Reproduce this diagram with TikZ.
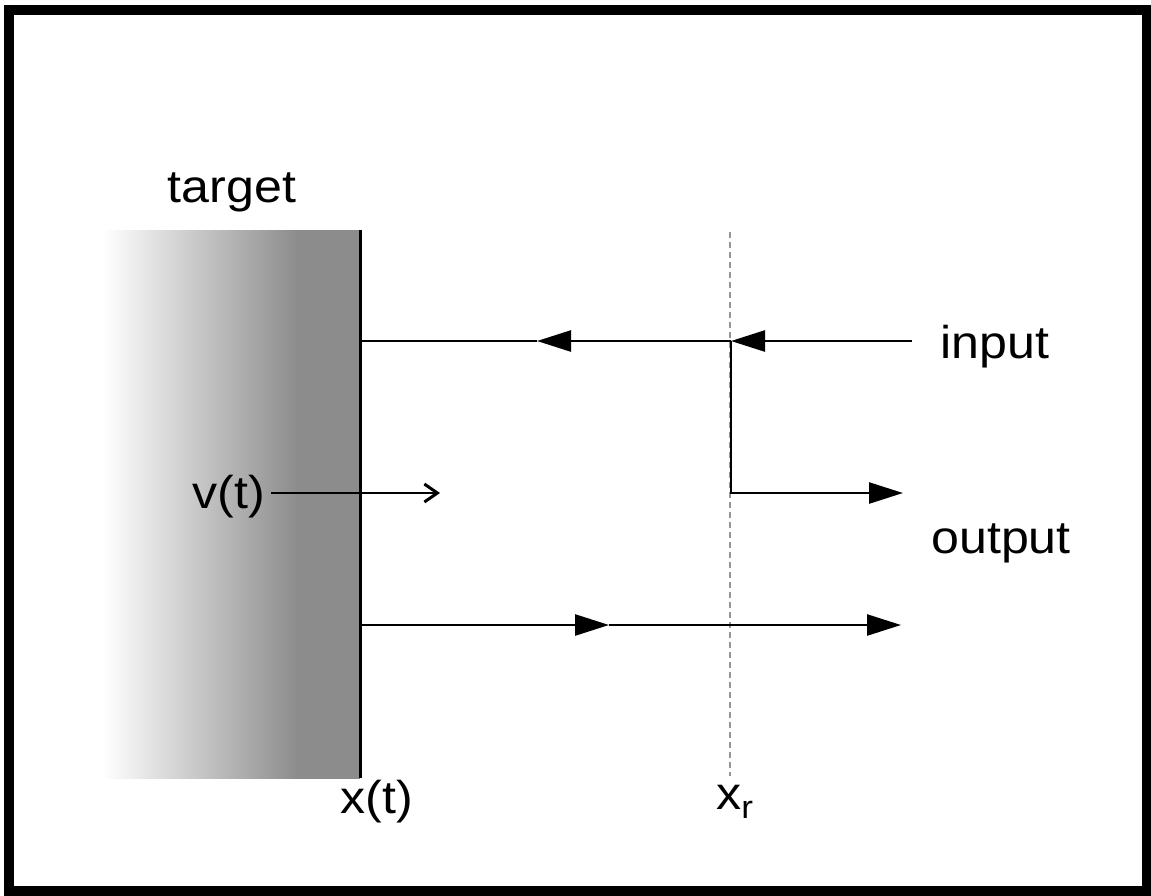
\documentclass[tikz,border=0pt]{standalone}
\usepackage{fontspec}
\setmainfont{Liberation Sans}
\usetikzlibrary{arrows.meta}
\definecolor{targetgray}{RGB}{140,140,140}
\definecolor{dashgray}{RGB}{150,150,150}
\pgfdeclarehorizontalshading{tgtshade}{100bp}{color(0bp)=(white); color(25bp)=(white); color(62.9bp)=(targetgray); color(100bp)=(targetgray)}
\begin{document}
\begin{tikzpicture}[x=1pt,y=-1pt,
  lbl/.style={inner sep=0pt,font=\fontsize{46}{52}\selectfont,xscale=1.09,transform shape},
  ray/.style={line width=2.6pt,draw=black},
  tri/.style={-{Triangle[length=34pt,width=21pt]}},
  barb/.style={-{Straight Barb[length=13pt,width=18pt,line width=3pt]}}]
\useasboundingbox (0,0) rectangle (1151,895);
\fill[white] (0,0) rectangle (1151,895);
% frame
\draw[line width=10pt] (8.5,9.5) rectangle (1147,890.5);
% target block
\shade[shading=tgtshade] (103,230) rectangle (360,778);
\draw[line width=3pt] (360,230) -- (360,778);
% reference plane
\draw[dashgray,line width=1.5pt,dash pattern=on 6pt off 4pt] (730,232) -- (730,776);
% labels
\node[lbl] (target) at (232,192) {target};
\node[lbl] (input) at (995,347) {input};
\node[lbl] (output) at (1001,543) {output};
\node[lbl] (v) at (229,497) {v(t)};
\node[lbl] (xt) at (377,802) {x(t)};
\node[lbl] (xr) at (735,802) {x\textsubscript{r}};
% coordinates
\coordinate (inR) at (912,341);
\coordinate (xr1) at (731,341);
\coordinate (m1) at (537,341);
\coordinate (w1) at (360,341);
\coordinate (e2) at (903,493);
\coordinate (w3) at (360,625);
\coordinate (m3) at (609,625);
\coordinate (e3) at (901,625);
\coordinate (vs) at (271,493);
\coordinate (vt) at (440,493);
% rays
\draw[ray,tri] (inR) -- (xr1);
\draw[ray,tri] (xr1) -- (m1);
\draw[ray] (m1) -- (w1);
\draw[ray,tri] (xr1) |- (e2);
\draw[ray,tri] (w3) -- (m3);
\draw[ray,tri] (m3) -- (e3);
\draw[ray,barb] (vs) -- (vt);
\end{tikzpicture}
\end{document}
